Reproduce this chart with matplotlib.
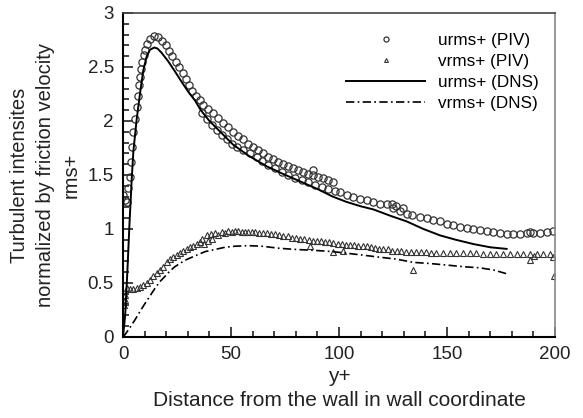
import matplotlib
matplotlib.use("Agg")
import matplotlib.pyplot as plt
from matplotlib.ticker import MultipleLocator

plt.rcParams['font.family'] = ['Liberation Sans', 'DejaVu Sans']

# urms+ PIV, first window (near wall up to ~97)
u_piv_a_x = [0.1, 0.9, 1.7, 2.5, 3.2, 3.6, 4.0, 4.8, 5.6, 6.3, 6.8, 7.4, 7.9, 8.3, 8.9,
             9.6, 10.2, 11.1, 12.3, 14.2, 16.3, 18.2, 19.8, 21.3, 22.8, 24.4, 25.9, 27.6,
             29.2, 30.6, 32.1, 33.8, 35.5, 37.2, 39.5, 41.8, 44.1, 46.4, 48.8, 51.0, 53.4,
             55.7, 58.0, 60.3, 62.6, 64.9, 67.3, 69.6, 71.9, 74.2, 76.5, 78.8, 81.1, 83.4,
             85.7, 87.8, 88.0, 90.3, 92.6, 94.9, 97.2]
u_piv_a_y = [1.31, 1.27, 1.25, 1.38, 1.48, 1.62, 1.76, 1.90, 2.02, 2.13, 2.23, 2.33, 2.41,
             2.48, 2.55, 2.61, 2.66, 2.71, 2.76, 2.79, 2.78, 2.74, 2.70, 2.65, 2.60, 2.55,
             2.50, 2.44, 2.39, 2.33, 2.28, 2.23, 2.19, 2.15, 2.11, 2.07, 2.03, 1.98, 1.94,
             1.90, 1.86, 1.83, 1.79, 1.76, 1.73, 1.70, 1.67, 1.65, 1.62, 1.60, 1.58, 1.56,
             1.55, 1.53, 1.51, 1.55, 1.50, 1.48, 1.47, 1.45, 1.43]

# urms+ PIV, second window (~36 to 200)
u_piv_b_x = [36.4, 38.7, 41.0, 43.4, 45.7, 48.0, 50.3, 52.6, 55.7, 58.8, 61.9, 64.5, 67.3,
             70.4, 73.5, 76.5, 79.6, 82.7, 85.7, 88.8, 91.9, 95.0, 98.0, 100.5, 103.5, 106.6,
             109.7, 112.8, 115.9, 119.0, 122.0, 124.4, 125.1, 126.5, 128.2, 129.5, 131.3,
             133.6, 137.5, 140.6, 143.7, 146.8, 149.8, 152.9, 156.0, 159.1, 162.2, 165.3,
             168.4, 171.5, 174.6, 177.6, 180.7, 183.8, 186.9, 188.4, 190.0, 193.0, 196.1,
             199.2]
u_piv_b_y = [2.07, 2.02, 1.96, 1.92, 1.87, 1.83, 1.79, 1.76, 1.73, 1.70, 1.67, 1.63, 1.59,
             1.56, 1.53, 1.50, 1.47, 1.45, 1.43, 1.41, 1.39, 1.37, 1.35, 1.34, 1.31, 1.30,
             1.28, 1.265, 1.25, 1.235, 1.23, 1.23, 1.19, 1.21, 1.17, 1.19, 1.14, 1.13, 1.11,
             1.10, 1.08, 1.07, 1.05, 1.04, 1.02, 1.01, 1.00, 0.99, 0.98, 0.97, 0.96, 0.95,
             0.95, 0.95, 0.96, 0.97, 0.96, 0.96, 0.97, 0.98]

# vrms+ PIV
v_piv_x = [0.5, 0.9, 1.0, 1.7, 3.2, 4.8, 6.3, 7.9, 9.4, 11.0, 12.5, 14.0, 15.6, 17.1, 18.7,
           20.2, 21.8, 23.3, 24.8, 26.4, 27.9, 29.4, 31.0, 32.6, 34.1, 35.6, 36.7, 37.6,
           38.7, 39.5, 40.6, 41.4, 42.6, 44.1, 45.7, 47.2, 48.8, 50.3, 51.9, 53.4, 55.0,
           56.5, 58.0, 59.6, 61.1, 63.0, 65.0, 66.5, 68.5, 70.4, 72.3, 74.2, 76.2, 78.1,
           80.0, 81.9, 84.0, 86.0, 86.6, 88.0, 89.7, 91.7, 93.6, 95.5, 97.4, 97.4, 99.4,
           101.3, 101.7, 103.2, 105.0, 107.0, 109.0, 110.9, 112.8, 114.7, 116.6, 118.6,
           120.5, 122.5, 124.5, 126.7, 128.8, 131.0, 133.2, 134.4, 135.5, 137.8, 140.2,
           142.5, 145.0, 148.1, 151.2, 154.3, 157.4, 160.5, 163.6, 166.7, 169.8, 172.9,
           176.0, 179.1, 182.2, 185.3, 188.4, 188.4, 190.5, 191.6, 194.6, 197.7, 199.2, 199.5]
v_piv_y = [0.30, 0.34, 0.39, 0.45, 0.44, 0.44, 0.45, 0.46, 0.48, 0.50, 0.53, 0.56, 0.59,
           0.62, 0.65, 0.69, 0.72, 0.74, 0.76, 0.78, 0.80, 0.81, 0.83, 0.84, 0.86, 0.88,
           0.91, 0.86, 0.94, 0.89, 0.95, 0.91, 0.96, 0.94, 0.97, 0.96, 0.98, 0.97, 0.98,
           0.98, 0.97, 0.975, 0.97, 0.97, 0.97, 0.965, 0.96, 0.96, 0.95, 0.95, 0.94, 0.935,
           0.93, 0.92, 0.915, 0.91, 0.905, 0.90, 0.84, 0.89, 0.89, 0.885, 0.88, 0.875, 0.87,
           0.79, 0.865, 0.86, 0.80, 0.855, 0.85, 0.85, 0.845, 0.84, 0.84, 0.83, 0.82, 0.815,
           0.81, 0.81, 0.80, 0.80, 0.80, 0.79, 0.79, 0.62, 0.79, 0.785, 0.785, 0.78, 0.78,
           0.78, 0.78, 0.775, 0.775, 0.775, 0.775, 0.77, 0.77, 0.77, 0.765, 0.765, 0.765,
           0.765, 0.71, 0.765, 0.75, 0.77, 0.77, 0.77, 0.74, 0.565]

# urms+ DNS
u_dns_x = [0, 1, 2, 3, 4, 4.8, 6.3, 7.9, 9.4, 11, 12.5, 14.5, 16, 17.9, 21, 24, 27.2, 30.2,
           33.3, 36, 40, 45, 51, 58, 66.5, 74, 82, 90, 97, 103.5, 110, 116, 124, 131.3, 139,
           146.8, 154, 162.2, 170, 177.6]
u_dns_y = [0, 0.2, 0.6, 1.05, 1.45, 1.72, 2.01, 2.26, 2.47, 2.60, 2.66, 2.68, 2.67, 2.63,
           2.55, 2.46, 2.36, 2.27, 2.19, 2.10, 2.00, 1.90, 1.78, 1.68, 1.58, 1.51, 1.44, 1.37,
           1.30, 1.25, 1.21, 1.18, 1.12, 1.07, 1.00, 0.94, 0.90, 0.86, 0.83, 0.815]

# vrms+ DNS
v_dns_x = [0, 0.9, 3, 5.6, 8, 10.2, 12.5, 14.8, 17, 19.4, 21.7, 24, 28.7, 33.3, 38, 42.6,
           47.2, 51.9, 58, 64.2, 72.7, 80, 89.7, 97, 103.5, 110, 118, 126.7, 134.4, 142, 150,
           157.6, 165, 171.5, 175, 178.4]
v_dns_y = [0, 0.02, 0.08, 0.16, 0.24, 0.31, 0.38, 0.45, 0.51, 0.56, 0.61, 0.65, 0.71, 0.75,
           0.79, 0.81, 0.83, 0.84, 0.845, 0.84, 0.82, 0.81, 0.80, 0.79, 0.775, 0.76, 0.74,
           0.72, 0.69, 0.68, 0.665, 0.65, 0.64, 0.62, 0.60, 0.58]

fig = plt.figure(figsize=(5.83, 4.18), dpi=100)
ax = fig.add_axes([0.211, 0.194, 0.741, 0.775])

circ = dict(marker='o', ms=5.2, mfc='none', mec='#333333', mew=0.9, ls='none')
ax.plot(u_piv_a_x, u_piv_a_y, label='urms+ (PIV)', **circ)
ax.plot(u_piv_b_x, u_piv_b_y, **circ)
ax.plot(v_piv_x, v_piv_y, marker='^', ms=4, mfc='none', mec='#333333', mew=0.8,
        ls='none', label='vrms+ (PIV)')
ax.plot(u_dns_x, u_dns_y, color='black', lw=1.4, label='urms+ (DNS)')
ax.plot(v_dns_x, v_dns_y, color='black', lw=1.2, ls=(0, (5, 2, 1, 2)), label='vrms+ (DNS)')

ax.set_xlim(0, 200)
ax.set_ylim(0, 3)
ax.xaxis.set_major_locator(MultipleLocator(50))
ax.xaxis.set_minor_locator(MultipleLocator(10))
ax.yaxis.set_minor_locator(MultipleLocator(0.1))
ax.set_yticks([0, 0.5, 1, 1.5, 2, 2.5, 3])
ax.set_yticklabels(['0', '0.5', '1', '1.5', '2', '2.5', '3'])
ax.tick_params(which='both', direction='in', top=False, right=False, labelsize=13.5,
               colors='#222222', width=1.2)
ax.tick_params(which='major', length=7, pad=6.5)
ax.tick_params(which='minor', length=4)

ax.spines['left'].set_linewidth(1.5)
ax.spines['bottom'].set_linewidth(1.5)
ax.spines['top'].set_linewidth(1.2)
ax.spines['top'].set_color('#444444')
ax.spines['right'].set_color('#888888')
ax.spines['right'].set_linewidth(1.2)

ax.set_xlabel('y+\nDistance from the wall in wall coordinate', fontsize=15,
              color='#222222', labelpad=3, linespacing=1.3)
ax.set_ylabel('Turbulent intensites\nnormalized by friction velocity\nrms+', fontsize=14.5,
              color='#222222', labelpad=5, linespacing=1.45)

ax.legend(loc='upper right', bbox_to_anchor=(0.999, 0.985), frameon=False, fontsize=12.3,
          handlelength=4.6, handletextpad=0.8, labelspacing=0.35, markerscale=0.7)

fig.savefig('out.png', dpi=100)
